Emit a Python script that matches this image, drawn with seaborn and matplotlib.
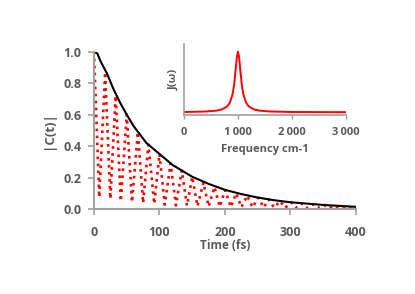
import numpy as np
import pandas as pd
import matplotlib
matplotlib.use('Agg')
import matplotlib.pyplot as plt
import seaborn as sns

# Envelope |C(t)| (black line)
env_t = [0, 5, 10, 20, 30, 40, 50, 60, 80, 100, 120, 150, 175, 200, 225, 250, 275, 300, 350, 400]
env_v = [1.0, 0.99, 0.94, 0.86, 0.76, 0.675, 0.60, 0.53, 0.42, 0.35, 0.28, 0.205, 0.16, 0.122, 0.095, 0.073, 0.056, 0.043, 0.026, 0.014]

# Oscillating |C(t)| (red dotted): peaks on the envelope, troughs near zero
peak_t = [0, 17, 33, 50, 67, 83, 100, 117, 134, 150, 167, 184, 200, 217, 234, 251, 267, 284, 301, 317, 334, 351, 367, 384, 400]
peak_v = [1.0, 0.87, 0.72, 0.60, 0.49, 0.41, 0.35, 0.29, 0.245, 0.205, 0.168, 0.14, 0.12, 0.10, 0.085, 0.072, 0.06, 0.05, 0.042, 0.035, 0.03, 0.025, 0.021, 0.017, 0.014]
trough_t = [8, 25, 41, 58, 75, 92, 108, 125, 142, 158, 175, 192, 209, 225, 242, 259, 275, 292, 309, 325, 342, 359, 376, 392]
trough_v = [0.075, 0.065, 0.05, 0.044, 0.038, 0.033, 0.028, 0.023, 0.021, 0.018, 0.016, 0.015, 0.013, 0.012, 0.011, 0.01, 0.009, 0.008, 0.007, 0.006, 0.006, 0.005, 0.005, 0.004]

# Spectral density J(w) (inset)
freq = [0, 200, 400, 600, 700, 800, 850, 900, 930, 960, 980, 1000, 1020, 1040, 1070, 1100, 1150, 1200, 1300, 1400, 1600, 2000, 2500, 3000]
jw = [0.004, 0.007, 0.012, 0.026, 0.045, 0.096, 0.158, 0.297, 0.463, 0.725, 0.914, 1.0, 0.914, 0.725, 0.463, 0.297, 0.158, 0.096, 0.045, 0.026, 0.012, 0.004, 0.002, 0.001]

osc_t, osc_v = [], []
for i in range(len(peak_t)):
    osc_t.append(peak_t[i]); osc_v.append(peak_v[i])
    if i < len(trough_t):
        osc_t.append(trough_t[i]); osc_v.append(trough_v[i])

env_df = pd.DataFrame({"t": env_t, "c": env_v})
osc_df = pd.DataFrame({"t": osc_t, "c": osc_v})
spec_df = pd.DataFrame({"w": freq, "j": jw})

sns.set_style("ticks")
plt.rcParams['font.family'] = ['Open Sans', 'DejaVu Sans']
txt = '#595959'
spine = '#a0a0a0'
W = 'bold'

fig = plt.figure(figsize=(4.15, 2.94), dpi=100)
ax = fig.add_axes([0.2265, 0.289, 0.6313, 0.535])

sns.lineplot(data=osc_df, x="t", y="c", ax=ax, color='red', lw=1.9, linestyle=':', sort=False)
sns.lineplot(data=env_df, x="t", y="c", ax=ax, color='black', lw=1.5)
ax.set_xlim(0, 400)
ax.set_ylim(0, 1.0)
ax.set_xticks([0, 100, 200, 300, 400])
ax.set_yticks([0, 0.2, 0.4, 0.6, 0.8, 1.0])
ax.set_yticklabels(['0.0', '0.2', '0.4', '0.6', '0.8', '1.0'])
ax.tick_params(axis='x', pad=8)
ax.tick_params(axis='y', pad=5)
ax.set_xlabel('Time (fs)', color=txt, fontsize=8.5, fontweight=W, labelpad=0)
ax.set_ylabel('|C(t)|', color=txt, fontsize=9.5, fontweight=W, labelpad=6)
ax.tick_params(colors=spine, labelcolor=txt, labelsize=9, length=4, width=1.2)
for lab in ax.get_xticklabels() + ax.get_yticklabels():
    lab.set_fontweight(W)
for s in ['top', 'right']:
    ax.spines[s].set_visible(False)
for s in ['left', 'bottom']:
    ax.spines[s].set_color(spine)
    ax.spines[s].set_linewidth(1.5)

# Inset
ins = fig.add_axes([0.4434, 0.609, 0.390, 0.2415])
sns.lineplot(data=spec_df, x="w", y="j", ax=ins, color='red', lw=1.4)
ins.set_xlim(0, 3000)
ins.set_ylim(-0.045, 1.127)
ins.set_xticks([0, 1000, 2000, 3000])
ins.set_xticklabels(['0', '1\u2009000', '2\u2009000', '3\u2009000'])
ins.set_yticks([])
ins.set_xlabel('Frequency cm-1', color=txt, fontsize=8, fontweight=W, labelpad=4)
ins.set_ylabel('J(\u03c9)', color=txt, fontsize=8, fontweight=W, labelpad=3)
ins.tick_params(colors=spine, labelcolor=txt, labelsize=8, length=3, width=1, pad=6)
for lab in ins.get_xticklabels():
    lab.set_fontweight(W)
for s in ['top', 'right']:
    ins.spines[s].set_visible(False)
for s in ['left', 'bottom']:
    ins.spines[s].set_color(spine)
    ins.spines[s].set_linewidth(1.2)

fig.savefig('out.png', dpi=100)
